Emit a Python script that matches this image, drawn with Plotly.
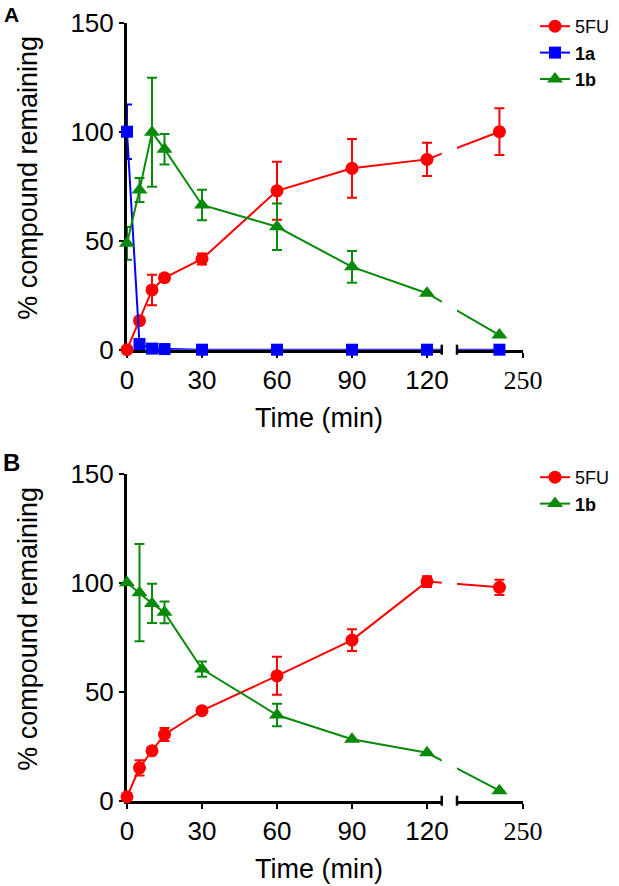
import plotly.graph_objects as go

# ---------------- data ----------------
times = [0, 5, 10, 15, 30, 60, 90, 120, 240]

# Panel A
a_5fu = [0, 13.3, 27.4, 33, 41.6, 72.9, 83.2, 87.3, 100]
a_5fu_err = [0, 1.5, 7, 1.5, 2.5, 13.3, 13.5, 7.6, 10.7]
a_1a = [100, 2.6, 0.5, 0.3, 0, 0, 0, 0, 0]
a_1a_err = [12.5, 0.5, 0, 0, 0, 0, 0, 0, 0]
a_1b = [48.8, 73.3, 99.7, 92, 66.4, 56.4, 38, 25.9, 6.7]
a_1b_err = [7.5, 5.5, 25, 7, 7, 10.7, 7.3, 0, 0]

# Panel B
b_5fu = [1.8, 15.1, 22.9, 30.4, 41.3, 57.3, 73.7, 100.5, 97.9]
b_5fu_err = [0, 3.5, 1.5, 3, 1, 8.7, 5, 2.5, 3.5]
b_1b = [100, 95.4, 90.5, 86.4, 60.4, 39.3, 28.2, 22, 4.6]
b_1b_err = [0, 22.3, 9, 5, 3.5, 5.2, 0, 0, 0]

x_tick_vals = [0, 30, 60, 90, 120, 250]
y_tick_vals = [0, 50, 100, 150]

# ---------------- broken x-axis mapping ----------------
LEFT_END = 125.9          # left segment covers 0 .. 125.9 min
RIGHT_SEG = (222, 250)    # right segment in minutes
RIGHT_POS = (132.0, 158.4)  # where the right segment sits on the axis


def axis_pos(t):
    if t <= LEFT_END:
        return t
    f = (t - RIGHT_SEG[0]) / (RIGHT_SEG[1] - RIGHT_SEG[0])
    return RIGHT_POS[0] + f * (RIGHT_POS[1] - RIGHT_POS[0])


xs = [axis_pos(t) for t in times]
tickpos = [axis_pos(t) for t in x_tick_vals]
ticktext = [str(t) for t in x_tick_vals[:-1]] + [
    '<span style="font-family:\'Liberation Serif\', \'Times New Roman\', serif">%d</span>' % x_tick_vals[-1]
]

RED = "#FF0000"
BLUE = "#0000FF"
GREEN = "#0A8A0A"
FONT = "Arial, 'Liberation Sans', sans-serif"

W, H = 619, 886
XDOM = [127 / W, 523 / W]
YDOM_A = [(H - 349.7) / H, (H - 22.7) / H]
YDOM_B = [(H - 800.7) / H, (H - 473.7) / H]

fig = go.Figure()


def add_series(y, err, name, color, symbol, xa, ya, legend, size=13):
    fig.add_trace(go.Scatter(
        x=xs, y=y, name=name, mode="lines+markers",
        line=dict(color=color, width=2),
        marker=dict(color=color, symbol=symbol, size=size),
        error_y=dict(type="data", array=err, visible=True, color=color,
                     thickness=2, width=5),
        xaxis=xa, yaxis=ya, legend=legend, cliponaxis=False,
    ))


add_series(a_5fu, a_5fu_err, "5FU", RED, "circle", "x", "y", "legend")
add_series(a_1a, a_1a_err, "<b>1a</b>", BLUE, "square", "x", "y", "legend", size=12)
add_series(a_1b, a_1b_err, "<b>1b</b>", GREEN, "triangle-up", "x", "y", "legend", size=14)

add_series(b_5fu, b_5fu_err, "5FU", RED, "circle", "x2", "y2", "legend2")
add_series(b_1b, b_1b_err, "<b>1b</b>", GREEN, "triangle-up", "x2", "y2", "legend2", size=14)

xaxis_common = dict(
    range=[0, RIGHT_POS[1]], showgrid=False, zeroline=False,
    showline=True, linecolor="black", linewidth=3,
    ticks="outside", ticklen=5, tickwidth=2, tickcolor="black",
    tickvals=tickpos, ticktext=ticktext,
    tickfont=dict(family=FONT, size=26, color="black"),
    layer="below traces", domain=XDOM, fixedrange=True,
)
yaxis_common = dict(
    range=[0, 150], showgrid=False, zeroline=False,
    showline=True, linecolor="black", linewidth=3,
    ticks="outside", ticklen=5, tickwidth=2, tickcolor="black",
    tickvals=y_tick_vals,
    tickfont=dict(family=FONT, size=26, color="black"),
    layer="below traces", fixedrange=True,
)

LEG_FONT = dict(family=FONT, size=18, color="black")
fig.update_layout(
    width=W, height=H, margin=dict(l=0, r=0, t=0, b=0, autoexpand=False),
    paper_bgcolor="white", plot_bgcolor="white",
    xaxis=dict(xaxis_common, anchor="y"),
    yaxis=dict(yaxis_common, domain=YDOM_A, anchor="x"),
    xaxis2=dict(xaxis_common, anchor="y2"),
    yaxis2=dict(yaxis_common, domain=YDOM_B, anchor="x2"),
    legend=dict(x=535 / W, y=1 - 8 / H, xanchor="left", yanchor="top",
                font=LEG_FONT, bgcolor="rgba(0,0,0,0)", tracegroupgap=0, itemwidth=30),
    legend2=dict(x=535 / W, y=1 - 459 / H, xanchor="left", yanchor="top",
                 font=LEG_FONT, bgcolor="rgba(0,0,0,0)", tracegroupgap=0, itemwidth=30),
    showlegend=True,
)

shapes = []
for xa, dom in (("x", YDOM_A), ("x2", YDOM_B)):
    # white gap for the axis break
    shapes.append(dict(type="rect", xref=xa, yref="paper",
                       x0=LEFT_END, x1=RIGHT_POS[0],
                       y0=dom[0] - 4 / H, y1=dom[1],
                       fillcolor="white", line=dict(width=0), layer="above"))
    # break bars
    for xb in (LEFT_END, RIGHT_POS[0]):
        shapes.append(dict(type="line", xref=xa, yref="paper",
                           x0=xb, x1=xb, y0=dom[0] - 5 / H, y1=dom[0] + 5 / H,
                           line=dict(color="black", width=2.5), layer="above"))
fig.update_layout(shapes=shapes)

annotations = []
for label, ypx, ax_y, lsize in (("A", 15, 349.7, 21), ("B", 462, 800.7, 24)):
    annotations.append(dict(text="<b>%s</b>" % label, xref="paper", yref="paper",
                            x=11 / W, y=1 - ypx / H, xanchor="center", yanchor="middle",
                            showarrow=False, font=dict(family=FONT, size=lsize, color="black")))
    mid = ax_y - 172
    annotations.append(dict(text="% compound remaining", xref="paper", yref="paper",
                            x=28 / W, y=1 - mid / H, xanchor="center", yanchor="middle",
                            textangle=-90, showarrow=False,
                            font=dict(family=FONT, size=27, color="black")))
    annotations.append(dict(text="Time (min)", xref="paper", yref="paper",
                            x=319 / W, y=1 - (ax_y + 68) / H, xanchor="center", yanchor="middle",
                            showarrow=False, font=dict(family=FONT, size=27, color="black")))
fig.update_layout(annotations=annotations)

fig.write_html("out.html",
               config={"displayModeBar": False},
               post_script="document.body.style.margin='0px';document.body.style.overflow='hidden';")
